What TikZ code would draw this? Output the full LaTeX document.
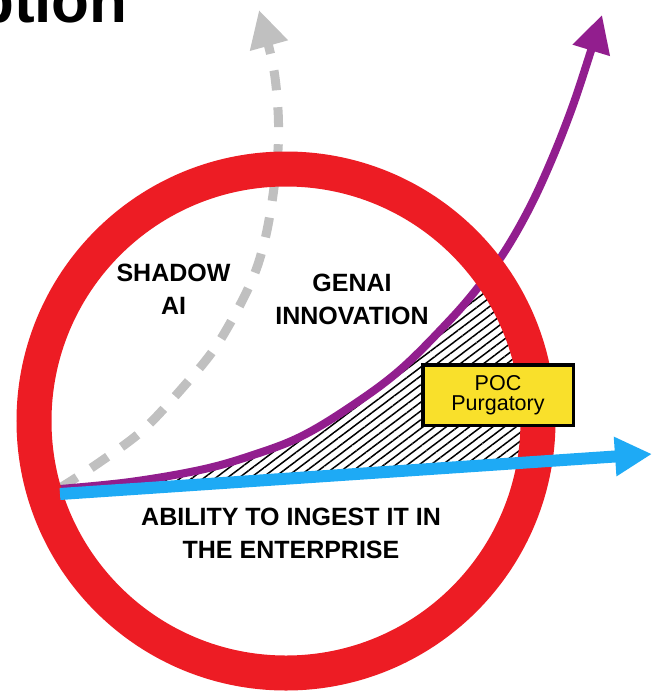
\documentclass[tikz,border=0pt]{standalone}
\usepackage{fontspec}
\setmainfont{Liberation Sans}
\usetikzlibrary{arrows.meta,patterns.meta}
\definecolor{ringred}{RGB}{237,28,36}
\definecolor{purp}{RGB}{146,30,142}
\definecolor{skyblue}{RGB}{30,170,245}
\definecolor{dashgray}{RGB}{192,192,192}
\definecolor{pocyellow}{RGB}{249,224,43}
\begin{document}
\begin{tikzpicture}[x=1pt,y=-1pt,
  lbl/.style={font=\bfseries\fontsize{25}{33}\selectfont, align=center, inner sep=0pt},
  arrowline/.style={line cap=butt},
  bigtip/.style={-{Triangle[length=37pt,width=37pt]}}]
\useasboundingbox (0,0) rectangle (659,693);
\fill[white] (0,0) rectangle (659,693);
\def\purplepath{plot[smooth,tension=0.6] coordinates {(60,489) (130,482) (200,470) (250,456) (300,437) (350,407) (400,370) (450,320) (480,285) (505,251) (530,207) (552,159) (572,108) (588,60) (602,15)}}
% named anchors
\coordinate (ctr) at (286,421);
\coordinate (blueStart) at (60,494);
\coordinate (blueTip) at (652,454);
% title fragment
\node[anchor=base west, inner sep=0pt, font=\bfseries\fontsize{62}{62}\selectfont] (title) at (-24,23) {ption};
% hatch
\begin{scope}
  \clip (ctr) circle[radius=252pt];
  \pattern[pattern={Lines[angle=37,distance=7pt,line width=1.5pt]}]
    \purplepath -- (700,15) -- (700,450.7) -- (blueStart) -- cycle;
\end{scope}
% gray dashed arrow
\draw[arrowline, dashgray, line width=9pt, dash pattern=on 20pt off 17pt, bigtip]
  plot[smooth,tension=0.55] coordinates {(60,488) (100,462) (143,430) (185,385) (215,348) (240,305) (256,270) (266,235) (273,195) (278,150) (278,110) (273,65) (259,10)};
% purple curve
\draw[arrowline, purp, line width=8pt, bigtip] \purplepath;
% red ring
\draw[ringred, line width=35pt] (ctr) circle[radius=252pt];
% blue line
\draw[arrowline, skyblue, line width=12pt, bigtip] (blueStart) -- (blueTip);
% POC box
\node[draw=black, line width=3.5pt, fill=pocyellow, minimum width=150.5pt, minimum height=60.5pt,
  inner sep=0pt, align=center, font=\fontsize{21.5}{19.5}\selectfont] (poc) at (498,395) {POC\\Purgatory};
% labels
\node[lbl] (shadow) at (173.5,289.5) {SHADOW\\AI};
\node[lbl] (genai) at (352,299) {GENAI\\INNOVATION};
\node[lbl] (ability) at (291,533) {ABILITY TO INGEST IT IN\\THE ENTERPRISE};
\end{tikzpicture}
\end{document}
